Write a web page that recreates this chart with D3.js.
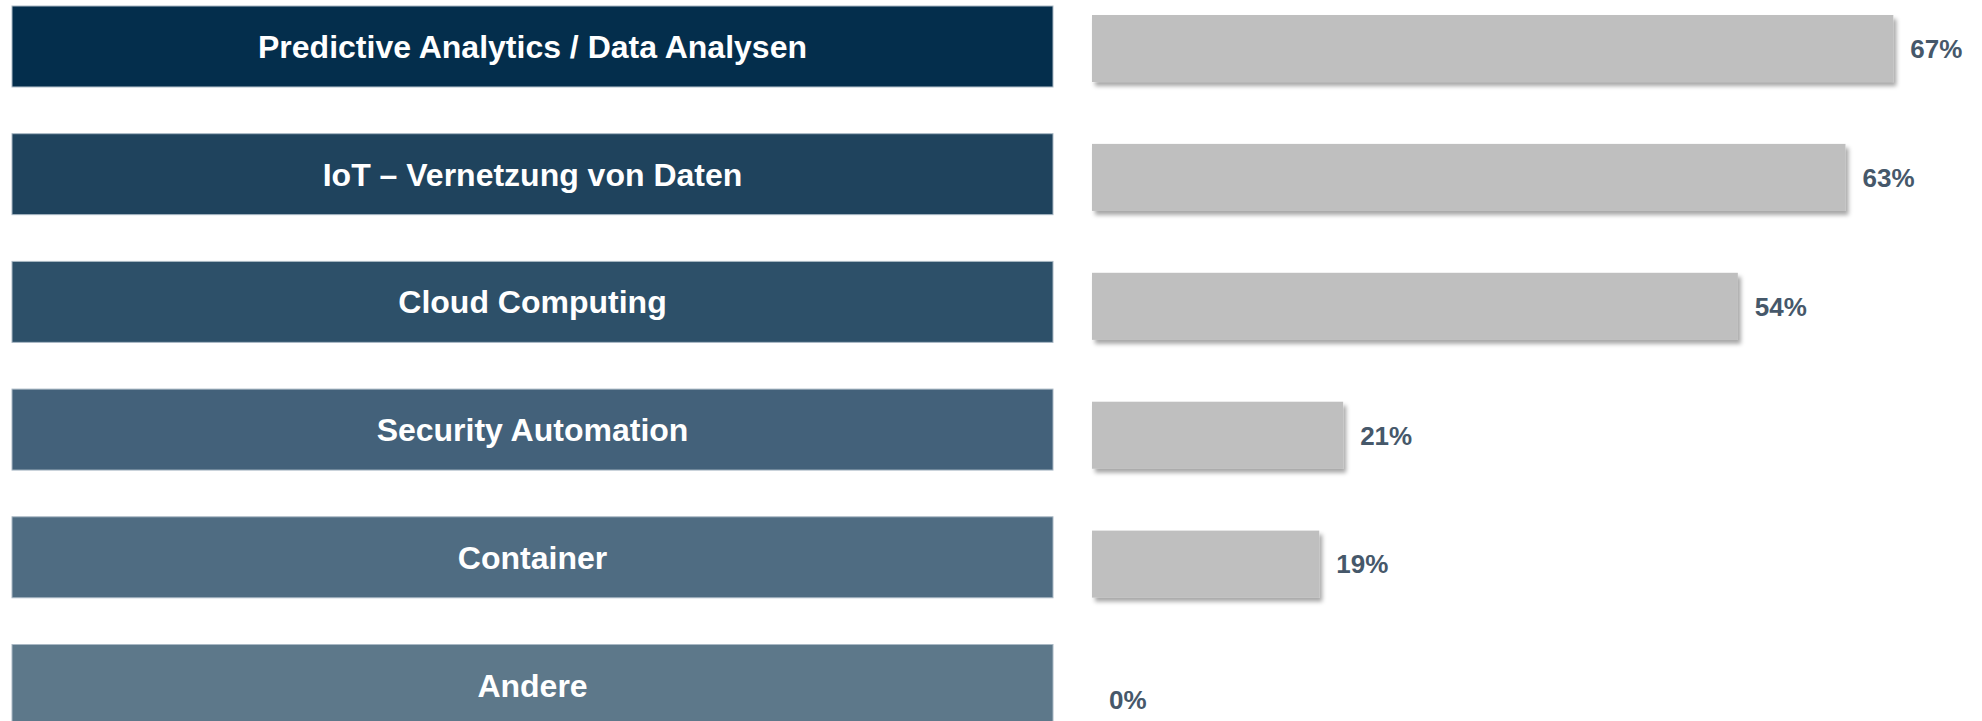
<!DOCTYPE html>
<html>
<head>
<meta charset="utf-8">
<script src="https://cdn.jsdelivr.net/npm/d3@7"></script>
<style>
  html, body { margin: 0; padding: 0; background: #fff; }
  svg { display: block; }
  text { font-family: "Liberation Sans", Arial, sans-serif; font-weight: bold; }
</style>
</head>
<body>
<div id="chart"></div>
<script>
// categories and values
var categories = [
  "Predictive Analytics / Data Analysen",
  "IoT \u2013 Vernetzung von Daten",
  "Cloud Computing",
  "Security Automation",
  "Container",
  "Andere"
];
var shares = [67, 63, 54, 21, 19, 0];
var boxColors = ["#042e4c", "#1f435d", "#2d5069", "#43617a", "#4f6c82", "#5d788a"];

var width = 1982, height = 721;

var svg = d3.select("#chart").append("svg")
  .attr("width", width)
  .attr("height", height);

// soft shadow under the grey bars
var f = svg.append("defs").append("filter")
  .attr("id", "shadow")
  .attr("x", "-5%").attr("y", "-20%")
  .attr("width", "115%").attr("height", "150%");
f.append("feDropShadow")
  .attr("dx", 3).attr("dy", 4)
  .attr("stdDeviation", 2)
  .attr("flood-color", "#000")
  .attr("flood-opacity", 0.35);

// rows for the category boxes on the left
var yBox = d3.scaleBand()
  .domain(categories)
  .range([6, 6 + 127.7 * (categories.length - 0.366)])
  .paddingInner(0.366);

// rows for the bars on the right (slightly different pitch)
var yBar = d3.scaleBand()
  .domain(categories)
  .range([15, 15 + 128.9 * (categories.length - 0.48)])
  .paddingInner(0.48);

var x = d3.scaleLinear()
  .domain([0, 100])
  .range([1092, 1092 + 1196]);

var boxLeft = 12, boxRight = 1053;

// left: labelled category boxes
var boxes = svg.selectAll("g.box")
  .data(categories)
  .enter().append("g")
  .attr("class", "box");

boxes.append("rect")
  .attr("x", boxLeft)
  .attr("y", function(d) { return yBox(d); })
  .attr("width", boxRight - boxLeft)
  .attr("height", yBox.bandwidth())
  .attr("fill", function(d, i) { return boxColors[i]; })
  .attr("stroke", "#a9b8c4")
  .attr("stroke-width", 1);

boxes.append("text")
  .attr("x", (boxLeft + boxRight) / 2)
  .attr("y", function(d) { return yBox(d) + yBox.bandwidth() / 2; })
  .attr("dy", "0.36em")
  .attr("text-anchor", "middle")
  .attr("fill", "#fff")
  .style("font-size", "32px")
  .text(function(d) { return d; });

// right: grey bars
svg.selectAll("rect.bar")
  .data(shares)
  .enter().append("rect")
  .attr("class", "bar")
  .filter(function(d) { return d > 0; })
  .attr("x", x(0))
  .attr("y", function(d, i) { return yBar(categories[i]); })
  .attr("width", function(d) { return x(d) - x(0); })
  .attr("height", yBar.bandwidth())
  .attr("fill", "#bfbfbf")
  .attr("filter", "url(#shadow)");

// value labels
svg.selectAll("text.value")
  .data(shares)
  .enter().append("text")
  .attr("class", "value")
  .attr("x", function(d) { return x(d) + 17; })
  .attr("y", function(d, i) {
    var c = yBar(categories[i]) + yBar.bandwidth() / 2;
    return d == 0 ? c + 7 : c;
  })
  .attr("dy", "0.36em")
  .attr("fill", "#46586a")
  .style("font-size", "26px")
  .text(function(d) { return d + "%"; });
</script>
</body>
</html>
